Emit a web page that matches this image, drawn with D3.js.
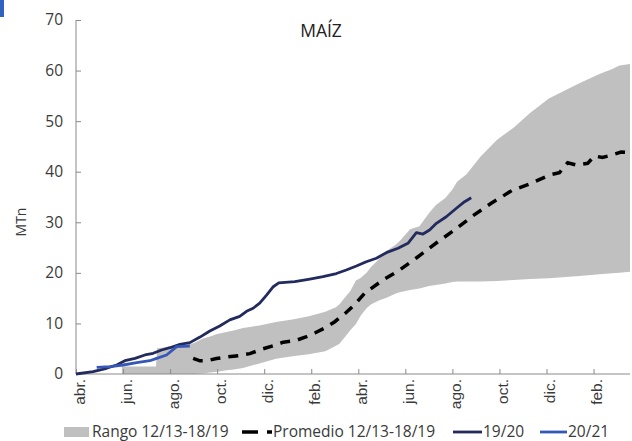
<!DOCTYPE html>
<html>
<head>
<meta charset="utf-8">
<script src="https://cdn.jsdelivr.net/npm/d3@7"></script>
<style>
  html, body { margin: 0; padding: 0; background: #fff; }
  svg { display: block; font-family: "Open Sans", "Noto Sans", sans-serif; }
</style>
</head>
<body>
<svg id="chart" width="632" height="441"></svg>
<script>
// ---- Data (x in months since start of April of campaign year) ----
const tickMonths = [0, 2, 4, 6, 8, 10, 12, 14, 16, 18, 20, 22];
const tickLabels = ["abr.", "jun.", "ago.", "oct.", "dic.", "feb.", "abr.", "jun.", "ago.", "oct.", "dic.", "feb."];
const yTicks = [0, 10, 20, 30, 40, 50, 60, 70];

const rangeMonths = [1.95, 3.40, 3.45, 4.30, 5.00, 5.40, 5.70, 6.00, 6.40, 6.70, 7.10, 7.80, 8.50, 9.20, 9.90, 10.60, 11.05, 11.20, 11.50, 11.65, 11.90, 12.10, 12.35, 12.55, 12.90, 13.20, 13.60, 13.80, 14.20, 14.60, 15.00, 15.30, 15.70, 16.00, 16.20, 16.60, 17.20, 17.90, 18.60, 19.30, 20.10, 21.10, 21.40, 22.25, 22.80, 23.10, 23.55];
const rangeHigh = [1.5, 1.5, 5.1, 5.5, 6.1, 7.0, 7.4, 7.9, 8.3, 8.6, 9.1, 9.6, 10.3, 10.8, 11.4, 12.3, 13.2, 13.8, 15.5, 16.3, 18.5, 19.0, 20.0, 21.2, 22.8, 24.3, 25.6, 26.5, 28.6, 29.2, 31.8, 33.4, 34.8, 36.5, 38.0, 39.5, 43.0, 46.3, 48.7, 51.6, 54.5, 56.8, 57.5, 59.3, 60.3, 61.0, 61.3];
const rangeLow = [0, 0, 0, 0, 0, 0.1, 0.3, 0.45, 0.75, 0.9, 1.2, 2.1, 3.0, 3.5, 3.9, 4.5, 5.6, 6.0, 7.7, 8.6, 9.9, 11.5, 13.0, 13.8, 14.6, 15.1, 15.9, 16.2, 16.6, 16.9, 17.4, 17.6, 17.9, 18.2, 18.3, 18.3, 18.3, 18.4, 18.6, 18.8, 18.95, 19.3, 19.4, 19.7, 19.9, 20.0, 20.2];

const avgMonths = [4.98, 5.27, 5.55, 5.97, 6.40, 6.96, 7.39, 7.95, 8.38, 8.81, 9.34, 9.77, 10.15, 10.62, 11.00, 11.46, 11.87, 12.27, 13.05, 13.76, 14.48, 15.37, 16.09, 16.87, 17.65, 18.53, 19.35, 20.13, 20.55, 20.90, 21.26, 21.75, 22.04, 22.38, 22.76, 23.17, 23.52];
const avgValues = [3.1, 2.6, 2.6, 3.06, 3.36, 3.66, 4.03, 4.98, 5.58, 6.29, 6.62, 7.32, 8.1, 9.2, 10.34, 12.06, 13.84, 15.96, 18.59, 20.57, 22.98, 26.1, 28.48, 31.28, 33.76, 36.29, 37.71, 39.35, 39.8, 41.78, 41.33, 41.66, 43.11, 42.81, 43.3, 43.9, 43.8];

const s1920Months = [0, 0.73, 1.30, 1.73, 2.08, 2.51, 2.93, 3.28, 3.64, 3.99, 4.42, 4.84, 5.27, 5.69, 6.11, 6.54, 6.96, 7.25, 7.53, 7.81, 8.10, 8.37, 8.62, 9.30, 9.94, 10.50, 11.07, 11.49, 11.92, 12.34, 12.77, 13.19, 13.69, 14.11, 14.47, 14.75, 15.03, 15.32, 15.74, 16.17, 16.52, 16.80];
const s1920Values = [0, 0.45, 1.13, 1.78, 2.63, 3.10, 3.76, 4.09, 4.75, 5.20, 5.87, 6.2, 7.3, 8.5, 9.5, 10.7, 11.4, 12.4, 13.0, 14.0, 15.6, 17.2, 18.0, 18.25, 18.75, 19.24, 19.87, 20.57, 21.36, 22.2, 22.88, 23.99, 24.86, 25.85, 27.94, 27.68, 28.47, 29.80, 31.1, 32.77, 34.07, 34.86];

const s2021Months = [0.88, 1.44, 2.01, 2.58, 3.14, 3.43, 3.85, 4.28, 4.84];
const s2021Values = [1.32, 1.44, 1.78, 2.23, 2.63, 3.1, 3.76, 5.4, 5.54];

const seriesNames = ["Rango 12/13-18/19", "Promedio 12/13-18/19", "19/20", "20/21"];
const colors = { range: "#c0c0c0", avg: "#000000", s1920: "#222a5e", s2021: "#3557b7", axis: "#8a8a8a", text: "#3a3a3a" };

// ---- Chart ----
const svg = d3.select("#chart");
const x = d3.scaleLinear().domain([0, 23.55]).range([76, 630]);
const y = d3.scaleLinear().domain([0, 70]).range([374, 20]);

// top-left accent mark
svg.append("rect").attr("x", 0).attr("y", 0).attr("width", 4).attr("height", 17).attr("fill", "#2e64c0");

// range area
const rangeData = rangeMonths.map((m, i) => ({ m, lo: rangeLow[i], hi: rangeHigh[i] }));
svg.append("path")
  .datum(rangeData)
  .attr("fill", colors.range)
  .attr("d", d3.area().x(d => x(d.m)).y0(d => y(d.lo)).y1(d => y(d.hi)));

// axes
const xAxis = d3.axisBottom(x).tickValues(tickMonths).tickSize(-5).tickFormat("");
const gx = svg.append("g").attr("transform", `translate(0,${y(0)})`).call(xAxis);
gx.select(".domain").attr("stroke", colors.axis).attr("d", `M${x(0)},0H${x(23.55)}`);
gx.selectAll(".tick line").attr("stroke", colors.axis);

gx.selectAll(".tick").append("text")
  .attr("transform", "rotate(-90)")
  .attr("x", -5)
  .attr("y", 3)
  .attr("dy", "0.35em")
  .attr("text-anchor", "end")
  .attr("fill", colors.text)
  .attr("font-size", "15.5px")
  .text((d, i) => tickLabels[i]);

const yAxis = d3.axisLeft(y).tickValues(yTicks).tickSize(-5).tickPadding(13);
const gy = svg.append("g").attr("transform", `translate(${x(0)},0)`).call(yAxis);
gy.select(".domain").attr("stroke", colors.axis).attr("d", `M0,${y(70)}V${y(0)}`);
gy.selectAll(".tick line").attr("stroke", colors.axis);
gy.selectAll(".tick text").attr("fill", colors.text).attr("font-size", "15.5px").attr("font-family", "Open Sans, sans-serif");

// lines
const line = d3.line().x(d => x(d[0])).y(d => y(d[1]));
svg.append("path")
  .datum(avgMonths.map((m, i) => [m, avgValues[i]]))
  .attr("fill", "none").attr("stroke", colors.avg).attr("stroke-width", 3.5)
  .attr("stroke-dasharray", "10,8").attr("d", line);
svg.append("path")
  .datum(s1920Months.map((m, i) => [m, s1920Values[i]]))
  .attr("fill", "none").attr("stroke", colors.s1920).attr("stroke-width", 2.8)
  .attr("stroke-linejoin", "round").attr("d", line);
svg.append("path")
  .datum(s2021Months.map((m, i) => [m, s2021Values[i]]))
  .attr("fill", "none").attr("stroke", colors.s2021).attr("stroke-width", 2.8)
  .attr("stroke-linejoin", "round").attr("d", line);

// title
svg.append("text").attr("x", 321).attr("y", 37).attr("text-anchor", "middle")
  .attr("fill", "#222").attr("font-size", "17.5px").text("MAÍZ");

// y-axis title
svg.append("text").attr("transform", "translate(26,222) rotate(-90)")
  .attr("text-anchor", "middle").attr("fill", colors.text).attr("font-size", "14px").text("MTn");

// legend
const lg = svg.append("g").attr("font-size", "15.5px").attr("fill", colors.text);
const ly = 432;
lg.append("rect").attr("x", 64).attr("y", ly - 5).attr("width", 25).attr("height", 10).attr("fill", colors.range);
lg.append("text").attr("x", 92).attr("y", ly).attr("dy", "0.35em").attr("fill", colors.text).text(seriesNames[0]);
lg.append("line").attr("x1", 242).attr("x2", 272).attr("y1", ly).attr("y2", ly)
  .attr("stroke", colors.avg).attr("stroke-width", 3.5).attr("stroke-dasharray", "16,9");
lg.append("text").attr("x", 273).attr("y", ly).attr("dy", "0.35em").attr("fill", colors.text).text(seriesNames[1]);
lg.append("line").attr("x1", 453).attr("x2", 482).attr("y1", ly).attr("y2", ly)
  .attr("stroke", colors.s1920).attr("stroke-width", 2.8);
lg.append("text").attr("x", 483).attr("y", ly).attr("dy", "0.35em").attr("fill", colors.text).text(seriesNames[2]);
lg.append("line").attr("x1", 540).attr("x2", 567).attr("y1", ly).attr("y2", ly)
  .attr("stroke", colors.s2021).attr("stroke-width", 2.8);
lg.append("text").attr("x", 568).attr("y", ly).attr("dy", "0.35em").attr("fill", colors.text).text(seriesNames[3]);
</script>
</body>
</html>
